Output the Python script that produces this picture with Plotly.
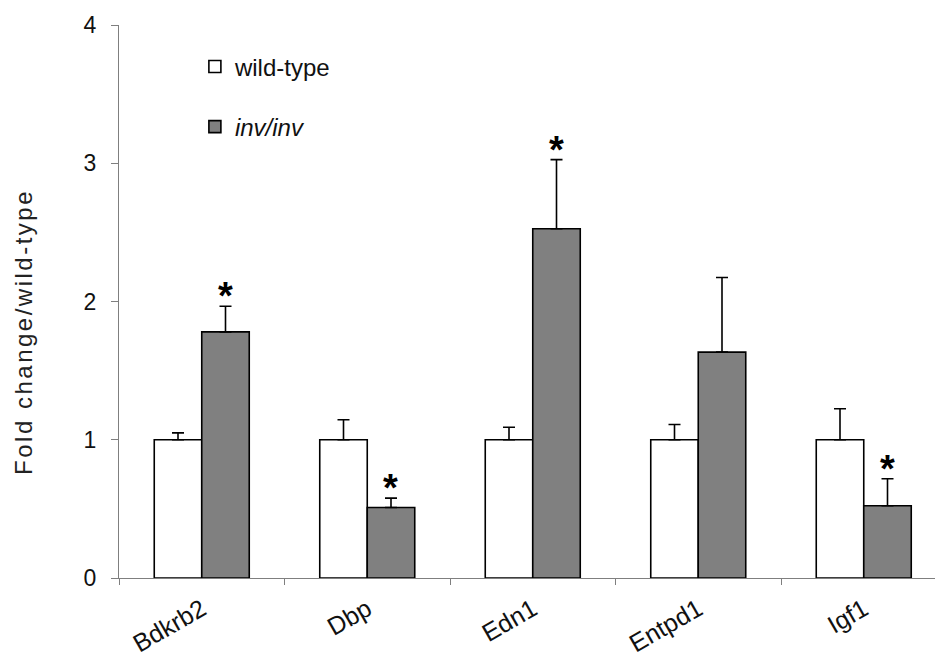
import plotly.graph_objects as go

# Gene expression: fold change relative to wild-type
genes = ["Bdkrb2", "Dbp", "Edn1", "Entpd1", "Igf1"]
wt_mean = [1.0, 1.0, 1.0, 1.0, 1.0]
wt_err = [0.05, 0.145, 0.09, 0.11, 0.224]
inv_mean = [1.78, 0.51, 2.526, 1.634, 0.523]
inv_err = [0.186, 0.068, 0.50, 0.54, 0.195]
significant = [True, True, True, False, True]

FONT = "Arial, Liberation Sans, sans-serif"

fig = go.Figure()

fig.add_trace(go.Bar(
    x=genes, y=wt_mean, name="wild-type",
    legendgroup="wt",
    marker=dict(color="white", line=dict(color="black", width=1.6)),
    error_y=dict(type="data", symmetric=False, array=wt_err,
                 arrayminus=[0] * len(wt_err), color="black",
                 thickness=1.6, width=6),
))
fig.add_trace(go.Bar(
    x=genes, y=inv_mean, name="<i>inv/inv</i>",
    legendgroup="inv",
    marker=dict(color="#808080", line=dict(color="black", width=1.6)),
    error_y=dict(type="data", symmetric=False, array=inv_err,
                 arrayminus=[0] * len(inv_err), color="black",
                 thickness=1.6, width=6),
))

# Significance markers above the inv/inv error bars
for g, m, e, s in zip(genes, inv_mean, inv_err, significant):
    if s:
        fig.add_annotation(
            x=g, y=m + e, xref="x", yref="y",
            text="<b>*</b>", showarrow=False,
            xshift=23.5, yshift=10, yanchor="middle",
            font=dict(family=FONT, size=38, color="black"),
        )

# Rotated y-axis title
fig.add_annotation(
    x=-95 / 816, y=0.445, xref="paper", yref="paper",
    text='<span style="letter-spacing:2.5px">Fold change/wild-type</span>',
    textangle=-90, showarrow=False, xanchor="center", yanchor="middle",
    font=dict(family=FONT, size=24, color="#222222"),
)

fig.update_layout(
    width=935, height=657,
    margin=dict(l=119, r=0, t=25, b=79),
    paper_bgcolor="white", plot_bgcolor="white",
    barmode="group", bargap=0.426, bargroupgap=0,
    font=dict(family=FONT, color="#111111"),
    showlegend=True,
    legend=dict(
        x=0.093, y=0.965, xanchor="left", yanchor="top",
        traceorder="grouped", tracegroupgap=26,
        font=dict(family=FONT, size=24, color="#111111"),
        bgcolor="rgba(0,0,0,0)",
    ),
    xaxis=dict(
        range=[-0.5, -0.5 + 816 / 165.5],
        showline=True, linecolor="#7f7f7f", linewidth=1,
        ticks="outside", tickson="boundaries", ticklen=6,
        tickcolor="#7f7f7f", tickangle=-30,
        ticklabelstandoff=6,
        tickfont=dict(family=FONT, size=25, color="#111111"),
        showgrid=False, zeroline=False,
    ),
    yaxis=dict(
        range=[0, 4], tickvals=[0, 1, 2, 3, 4],
        showline=True, linecolor="#7f7f7f", linewidth=1,
        ticks="outside", ticklen=7, tickcolor="#7f7f7f",
        ticklabelstandoff=10,
        tickfont=dict(family=FONT, size=23, color="#111111"),
        showgrid=False, zeroline=False,
    ),
)

fig.write_html("out.html")
